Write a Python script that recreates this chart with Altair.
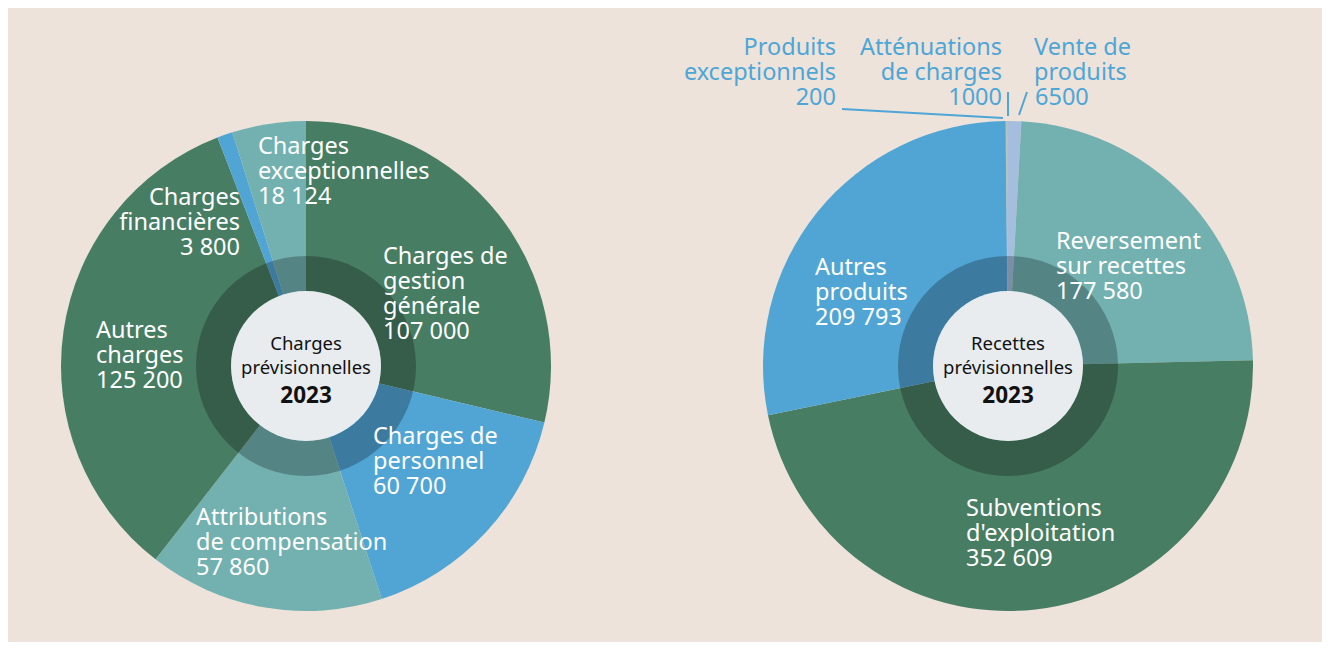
import altair as alt
import pandas as pd

# ---------------- data ----------------
dep_names = ["Charges de gestion générale", "Charges de personnel", "Attributions de compensation",
             "Autres charges", "Charges financières", "Charges exceptionnelles"]
dep_values = [107000, 60700, 57860, 125200, 3800, 18124]
dep_value_text = ["107 000", "60 700", "57 860", "125 200", "3 800", "18 124"]
dep_label_lines = [["Charges de", "gestion", "générale"], ["Charges de", "personnel"],
                   ["Attributions", "de compensation"], ["Autres", "charges"],
                   ["Charges", "financières"], ["Charges", "exceptionnelles"]]

rec_names = ["Vente de produits", "Reversement sur recettes", "Subventions d'exploitation",
             "Autres produits", "Produits exceptionnels", "Atténuations de charges"]
rec_values = [6500, 177580, 352609, 209793, 200, 1000]
rec_value_text = ["6500", "177 580", "352 609", "209 793", "200", "1000"]
rec_label_lines = [["Vente de", "produits"], ["Reversement", "sur recettes"], ["Subventions", "d'exploitation"],
                   ["Autres", "produits"], ["Produits", "exceptionnels"], ["Atténuations", "de charges"]]

center_left = ["Charges", "prévisionnelles"]
center_right = ["Recettes", "prévisionnelles"]
year = "2023"

# ---------------- styles / layout ----------------
GREEN = "#477D63"
BLUE = "#50A5D4"
TEAL = "#72B1B0"
LAVENDER = "#A5BEDD"
GREYGREEN = "#B4C3B5"
BG = "#EDE3DB"
LABEL_BLUE = "#4EA6D6"
CENTER = "#E8ECEF"

dep_colors = [GREEN, BLUE, TEAL, GREEN, BLUE, TEAL]
rec_colors = [LAVENDER, TEAL, GREEN, BLUE, BLUE, GREYGREEN]

OFF = 8
W, H = 1314, 634
R_OUT, R_RING, R_IN = 245, 110, 75
LC = (306 - OFF, 366 - OFF)
RC = (1008 - OFF, 366 - OFF)
FONT = "Noto Sans"
FS, LH = 23.5, 25

# label layout: (align, x, first-line centre y, colour) in page coords
dep_label_pos = [("left", 383, 257, "white"), ("left", 373, 437, "white"), ("left", 196, 518, "white"),
                 ("left", 96, 331, "white"), ("right", 240, 198, "white"), ("left", 258, 147, "white")]
rec_label_pos = [("left", 1034, 48, LABEL_BLUE), ("left", 1056, 242, "white"), ("left", 966, 509, "white"),
                 ("left", 815, 268, "white"), ("right", 836, 48, LABEL_BLUE), ("right", 1002, 48, LABEL_BLUE)]
leaders = [(842, 109, 1003, 118), (1008, 92, 1008, 116), (1019, 115, 1027, 92)]


def pie(names, values, colors, center):
    df = pd.DataFrame({"name": names, "value": values, "color": colors, "order": range(len(names))})
    return alt.Chart(df).mark_arc(radius=R_OUT, stroke=None).encode(
        theta=alt.Theta("value:Q", stack=True),
        order=alt.Order("order:Q"),
        color=alt.Color("color:N", scale=None),
        x=alt.value(center[0]), y=alt.value(center[1]),
        tooltip=["name:N", "value:Q"],
    )


def ring(center):
    return alt.Chart(pd.DataFrame({"a": [0]})).mark_arc(
        radius=R_RING, radius2=R_IN, theta=0, theta2=6.2832, color="black", opacity=0.25, stroke=None
    ).encode(x=alt.value(center[0]), y=alt.value(center[1]))


def disc(center):
    return alt.Chart(pd.DataFrame({"a": [0]})).mark_arc(
        radius=R_IN, theta=0, theta2=6.2832, color=CENTER, stroke=None
    ).encode(x=alt.value(center[0]), y=alt.value(center[1]))


def label(lines, align, x, y1, color, size=FS, bold=False, lh=LH):
    # first line is centred on y1; further lines follow below
    df = pd.DataFrame({"text": ["\n".join(lines)], "x": [x - OFF], "y": [y1 - OFF]})
    return alt.Chart(df).mark_text(
        align=align, baseline="middle", lineBreak="\n", lineHeight=lh, font=FONT,
        fontSize=size, fontWeight="bold" if bold else "normal", color=color
    ).encode(x=alt.X("x:Q", scale=None, axis=None), y=alt.Y("y:Q", scale=None, axis=None), text="text:N")


layers = [pie(dep_names, dep_values, dep_colors, LC), pie(rec_names, rec_values, rec_colors, RC),
          ring(LC), ring(RC), disc(LC), disc(RC)]

for lines, vt, (al, x, y, c) in zip(dep_label_lines, dep_value_text, dep_label_pos):
    layers.append(label(lines + [vt], al, x, y, c))
for i, (lines, vt, (al, x, y, c)) in enumerate(zip(rec_label_lines, rec_value_text, rec_label_pos)):
    if i == 0:
        layers.append(label(lines, al, x, y, c))
        layers.append(label([vt], al, x + 1, y + 2 * LH, c))
    else:
        layers.append(label(lines + [vt], al, x, y, c))

for (x1, y1, x2, y2) in leaders:
    layers.append(alt.Chart(pd.DataFrame({"a": [0]})).mark_rule(color=LABEL_BLUE, strokeWidth=2).encode(
        x=alt.value(x1 - OFF), y=alt.value(y1 - OFF), x2=alt.value(x2 - OFF), y2=alt.value(y2 - OFF)))

for cx, lines in ((306, center_left), (1008, center_right)):
    layers.append(label(lines, "center", cx, 344, "#111111", size=18.5, lh=24))
    layers.append(label([year], "center", cx, 396, "#111111", size=22.5, bold=True))

chart = alt.layer(*layers).resolve_scale(theta="independent").properties(
    width=W, height=H, autosize="none", padding=0, background=BG
).configure_view(stroke=None)

chart.save("out.html", embed_options={"renderer": "svg", "actions": False})
